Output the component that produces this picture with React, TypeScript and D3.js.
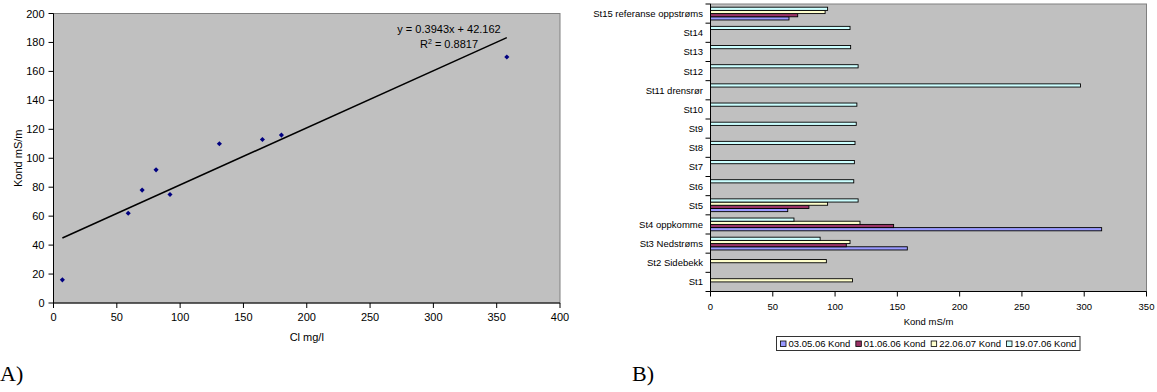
import React, { useEffect, useRef } from 'react';
import * as d3 from 'd3';

// A) scatter: Cl vs Kond
const clValues = [7, 59, 70, 81, 92, 131, 165, 180, 358];
const kondValues = [16, 62, 78, 92, 75, 110, 113, 116, 170];
const trendSlope = 0.3943;
const trendIntercept = 42.162;
const xTicksA = [0, 50, 100, 150, 200, 250, 300, 350, 400];
const yTicksA = [0, 20, 40, 60, 80, 100, 120, 140, 160, 180, 200];

// B) bars per station
const stations = [
  "St1", "St2 Sidebekk", "St3 Nedstrøms", "St4 oppkomme", "St5", "St6", "St7", "St8",
  "St9", "St10", "St11 drensrør", "St12", "St13", "St14", "St15 referanse oppstrøms"
];
const seriesNames = ["03.05.06 Kond", "01.06.06 Kond", "22.06.07 Kond", "19.07.06 Kond"];
const seriesColors = ["#9999FF", "#993366", "#FFFFCC", "#CCFFFF"];
const kond030506 = [null, null, 158, 314, 62, null, null, null, null, null, null, null, null, null, 63];
const kond010606 = [null, null, 109, 147, 79, null, null, null, null, null, null, null, null, null, 70];
const kond220607 = [114, 93, 112, 120, 94, null, null, null, null, null, null, null, null, null, 92];
const kond190706 = [null, null, 88, 67, 118.5, 115, 115.5, 116, 117, 117.5, 297, 118.5, 112.5, 112, 94];
const xTicksB = [0, 50, 100, 150, 200, 250, 300, 350];

const FONT = "'Liberation Sans', Arial, sans-serif";

const App: React.FC = () => {
  const svgRef = useRef<SVGSVGElement>(null);

  useEffect(() => {
    if (!svgRef.current) return;
    const svg = d3.select(svgRef.current);
    svg.selectAll("*").remove();

    // ---------- Chart A ----------
    const a = svg.append("g").style("font-family", FONT);
    const xA = d3.scaleLinear().domain([0, 400]).range([53.5, 560]);
    const yA = d3.scaleLinear().domain([0, 200]).range([303, 13.5]);

    a.append("rect")
      .attr("x", xA(0)).attr("y", yA(200))
      .attr("width", xA(400) - xA(0)).attr("height", yA(0) - yA(200))
      .attr("fill", "#C0C0C0").attr("stroke", "#808080").attr("stroke-width", 1);

    // trendline
    const xMin = d3.min(clValues) as number;
    const xMax = d3.max(clValues) as number;
    a.append("line")
      .attr("x1", xA(xMin)).attr("y1", yA(trendSlope * xMin + trendIntercept))
      .attr("x2", xA(xMax)).attr("y2", yA(trendSlope * xMax + trendIntercept))
      .attr("stroke", "#000").attr("stroke-width", 1.5);

    // points (small rotated squares like Excel's diamond marker)
    const diamond = d3.symbol().type(d3.symbolSquare).size(13);
    clValues.forEach((c, i) => {
      a.append("path")
        .attr("d", diamond() as string)
        .attr("transform", `translate(${xA(c)},${yA(kondValues[i])}) rotate(45)`)
        .attr("fill", "#000080");
    });

    // axes
    a.append("line").attr("x1", xA(0)).attr("x2", xA(0)).attr("y1", yA(200)).attr("y2", yA(0)).attr("stroke", "#000");
    a.append("line").attr("x1", xA(0)).attr("x2", xA(400)).attr("y1", yA(0)).attr("y2", yA(0)).attr("stroke", "#000");

    yTicksA.forEach(t => {
      a.append("line").attr("x1", xA(0) - 5).attr("x2", xA(0)).attr("y1", yA(t)).attr("y2", yA(t)).attr("stroke", "#000");
      a.append("text").attr("x", xA(0) - 9).attr("y", yA(t) + 4)
        .attr("text-anchor", "end").style("font-size", "11px").text(t);
    });
    xTicksA.forEach(t => {
      a.append("line").attr("x1", xA(t)).attr("x2", xA(t)).attr("y1", yA(0)).attr("y2", yA(0) + 5).attr("stroke", "#000");
      a.append("text").attr("x", xA(t)).attr("y", yA(0) + 18)
        .attr("text-anchor", "middle").style("font-size", "11px").text(t);
    });

    a.append("text").attr("x", (xA(0) + xA(400)) / 2).attr("y", 341)
      .attr("text-anchor", "middle").style("font-size", "11px").text("Cl mg/l");
    a.append("text").attr("transform", `translate(22,${(yA(0) + yA(200)) / 2}) rotate(-90)`)
      .attr("text-anchor", "middle").style("font-size", "11px").text("Kond mS/m");

    a.append("text").attr("x", 449).attr("y", 33)
      .attr("text-anchor", "middle").style("font-size", "11px")
      .text(`y = ${trendSlope}x + ${trendIntercept}`);
    const r2 = a.append("text").attr("x", 449).attr("y", 48)
      .attr("text-anchor", "middle").style("font-size", "11px");
    r2.append("tspan").text("R");
    r2.append("tspan").attr("dy", -4).style("font-size", "7px").text("2");
    r2.append("tspan").attr("dy", 4).text(" = 0.8817");

    svg.append("text").attr("x", 0).attr("y", 381)
      .style("font-family", "'Liberation Serif', 'Times New Roman', serif")
      .style("font-size", "22px").text("A)");

    // ---------- Chart B ----------
    const b = svg.append("g").style("font-family", FONT);
    const xB = d3.scaleLinear().domain([0, 350]).range([710.5, 1146.5]);
    const yB = d3.scaleBand<string>().domain([...stations].reverse()).range([4, 291.5]);
    const inner = d3.scaleBand<number>().domain([3, 2, 1, 0])
      .range([0, yB.bandwidth()]).paddingInner(0).paddingOuter(1);

    b.append("rect")
      .attr("x", xB(0)).attr("y", 4)
      .attr("width", xB(350) - xB(0)).attr("height", 291.5 - 4)
      .attr("fill", "#C0C0C0").attr("stroke", "#808080").attr("stroke-width", 1);

    const allSeries = [kond030506, kond010606, kond220607, kond190706];
    allSeries.forEach((vals, si) => {
      vals.forEach((v, ci) => {
        if (v == null) return;
        const y0 = (yB(stations[ci]) as number) + (inner(si) as number);
        b.append("rect")
          .attr("x", xB(0)).attr("y", y0)
          .attr("width", xB(v) - xB(0)).attr("height", inner.bandwidth())
          .attr("fill", seriesColors[si]).attr("stroke", "#000").attr("stroke-width", 0.9);
      });
    });

    b.append("line").attr("x1", xB(0)).attr("x2", xB(0)).attr("y1", 4).attr("y2", 291.5).attr("stroke", "#000");
    b.append("line").attr("x1", xB(0)).attr("x2", xB(350)).attr("y1", 291.5).attr("y2", 291.5).attr("stroke", "#000");

    const bandEdges = [...yB.domain().map(s => yB(s) as number), 291.5];
    bandEdges.forEach(y => {
      b.append("line").attr("x1", xB(0) - 5).attr("x2", xB(0)).attr("y1", y).attr("y2", y).attr("stroke", "#000");
    });
    stations.forEach(s => {
      b.append("text").attr("x", 703).attr("y", (yB(s) as number) + yB.bandwidth() / 2 + 3.5)
        .attr("text-anchor", "end").style("font-size", "9.5px").text(s);
    });
    xTicksB.forEach(t => {
      b.append("line").attr("x1", xB(t)).attr("x2", xB(t)).attr("y1", 291.5).attr("y2", 296.5).attr("stroke", "#000");
      b.append("text").attr("x", xB(t)).attr("y", 309.5)
        .attr("text-anchor", "middle").style("font-size", "9.5px").text(t);
    });
    b.append("text").attr("x", (xB(0) + xB(350)) / 2).attr("y", 325)
      .attr("text-anchor", "middle").style("font-size", "9.5px").text("Kond mS/m");

    // legend
    const lg = b.append("g");
    lg.append("rect").attr("x", 776.5).attr("y", 336.5).attr("width", 303.5).attr("height", 14)
      .attr("fill", "#fff").attr("stroke", "#333").attr("stroke-width", 1);
    const legendX = d3.scalePoint<number>().domain([0, 1, 2, 3]).range([780.5, 1006.5]);
    seriesNames.forEach((name, i) => {
      const lx = legendX(i) as number;
      lg.append("rect").attr("x", lx).attr("y", 341).attr("width", 5.5).attr("height", 5.5)
        .attr("fill", seriesColors[i]).attr("stroke", "#000").attr("stroke-width", 0.8);
      lg.append("text").attr("x", lx + 8).attr("y", 347)
        .style("font-size", "9.5px").text(name);
    });

    svg.append("text").attr("x", 632).attr("y", 381)
      .style("font-family", "'Liberation Serif', 'Times New Roman', serif")
      .style("font-size", "22px").text("B)");
  }, []);

  return (
    <svg
      ref={svgRef}
      width={1157}
      height={392}
      style={{ position: 'absolute', left: 0, top: 0, background: '#fff' }}
    />
  );
};

export default App;
